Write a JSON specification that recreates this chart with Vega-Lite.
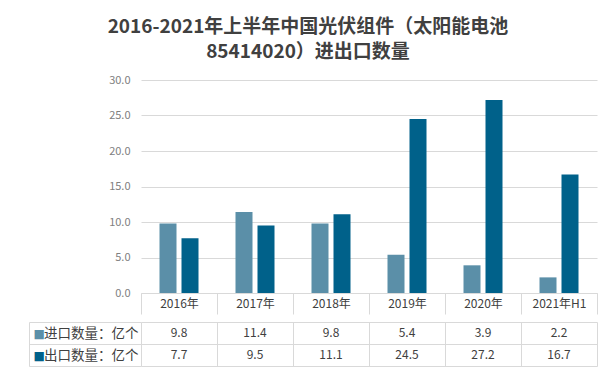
{
  "$schema": "https://vega.github.io/schema/vega-lite/v6.json",
  "padding": {"left": 28, "top": 18, "right": 12, "bottom": 5},
  "background": "white",
  "title": {
    "text": ["2016-2021年上半年中国光伏组件（太阳能电池", "85414020）进出口数量"],
    "font": "Noto Sans CJK SC",
    "fontSize": 19,
    "fontWeight": "bold",
    "color": "#404040",
    "lineHeight": 25,
    "offset": 12,
    "anchor": "middle",
    "dx": -5
  },
  "data": {
    "values": [
      {"year": "2016年", "series": "进口数量：亿个", "value": 9.8},
      {"year": "2017年", "series": "进口数量：亿个", "value": 11.4},
      {"year": "2018年", "series": "进口数量：亿个", "value": 9.8},
      {"year": "2019年", "series": "进口数量：亿个", "value": 5.4},
      {"year": "2020年", "series": "进口数量：亿个", "value": 3.9},
      {"year": "2021年H1", "series": "进口数量：亿个", "value": 2.2},
      {"year": "2016年", "series": "出口数量：亿个", "value": 7.7},
      {"year": "2017年", "series": "出口数量：亿个", "value": 9.5},
      {"year": "2018年", "series": "出口数量：亿个", "value": 11.1},
      {"year": "2019年", "series": "出口数量：亿个", "value": 24.5},
      {"year": "2020年", "series": "出口数量：亿个", "value": 27.2},
      {"year": "2021年H1", "series": "出口数量：亿个", "value": 16.7}
    ]
  },
  "spacing": 0,
  "vconcat": [
    {
      "width": 456,
      "height": 213,
      "mark": {"type": "bar"},
      "encoding": {
        "x": {
          "field": "year", "type": "nominal", "sort": null,
          "scale": {"paddingInner": 0, "paddingOuter": 0},
          "axis": {
            "title": null, "orient": "bottom", "domain": true, "domainColor": "#d9d9d9",
            "ticks": true, "tickBand": "extent", "tickSize": 21, "tickColor": "#d9d9d9",
            "labelAngle": 0, "labelPadding": -10.5, "labelBaseline": "middle",
            "labelFont": "Noto Sans CJK SC", "labelFontSize": 12, "labelColor": "#404040",
            "grid": false
          }
        },
        "xOffset": {
          "field": "series", "type": "nominal",
          "sort": ["进口数量：亿个", "出口数量：亿个"],
          "scale": {"paddingInner": 0.227, "paddingOuter": 0.841}
        },
        "y": {
          "field": "value", "type": "quantitative",
          "scale": {"domain": [0, 30]},
          "axis": {
            "title": null, "values": [0, 5, 10, 15, 20, 25, 30], "format": ".1f",
            "domain": false, "ticks": false, "grid": true, "gridColor": "#d9d9d9",
            "labelColor": "#808080", "labelFontSize": 11, "labelFont": "Noto Sans CJK SC",
            "labelPadding": 11
          }
        },
        "color": {
          "field": "series", "type": "nominal",
          "scale": {"domain": ["进口数量：亿个", "出口数量：亿个"], "range": ["#5b8fa8", "#00618a"]},
          "legend": null
        }
      }
    },
    {
      "width": 456,
      "height": 44,
      "layer": [
        {
          "mark": {"type": "text", "font": "Noto Sans CJK SC", "fontSize": 12, "color": "#404040"},
          "encoding": {
            "x": {
              "field": "year", "type": "nominal", "sort": null,
              "scale": {"paddingInner": 0, "paddingOuter": 0},
              "axis": {
                "title": null, "grid": true, "tickBand": "extent", "gridColor": "#d9d9d9",
                "labels": false, "ticks": false, "domain": false
              }
            },
            "y": {
              "field": "series", "type": "nominal",
              "sort": ["进口数量：亿个", "出口数量：亿个"],
              "scale": {"paddingInner": 0, "paddingOuter": 0},
              "axis": {
                "title": null, "orient": "left", "domain": false,
                "ticks": true, "tickBand": "extent", "tickSize": 112, "tickColor": "#d9d9d9",
                "grid": true, "gridColor": "#d9d9d9",
                "labelAlign": "right", "labelPadding": -109, "labelBaseline": "middle",
                "labelFont": "Noto Sans CJK SC", "labelFontSize": 13.5, "labelColor": "#404040"
              }
            },
            "text": {"field": "value", "type": "quantitative", "format": ".1f"}
          }
        },
        {
          "mark": {"type": "text", "opacity": 0},
          "encoding": {
            "y": {
              "field": "series", "type": "nominal",
              "sort": ["进口数量：亿个", "出口数量：亿个"],
              "scale": {"paddingInner": 0, "paddingOuter": 0},
              "axis": {
                "title": null, "orient": "left", "offset": 112,
                "domain": true, "domainColor": "#d9d9d9",
                "ticks": false, "grid": false,
                "labelExpr": "'■'", "labelAlign": "left", "labelPadding": -4,
                "labelBaseline": "middle", "labelFont": "DejaVu Sans", "labelFontSize": 12,
                "labelColor": {"condition": {"test": "datum.value === '进口数量：亿个'", "value": "#5b8fa8"}, "value": "#00618a"}
              }
            },
            "text": {"field": "value", "type": "quantitative"}
          }
        }
      ],
      "resolve": {"scale": {"y": "independent"}}
    }
  ],
  "config": {
    "view": {"stroke": null},
    "font": "Noto Sans CJK SC"
  }
}
